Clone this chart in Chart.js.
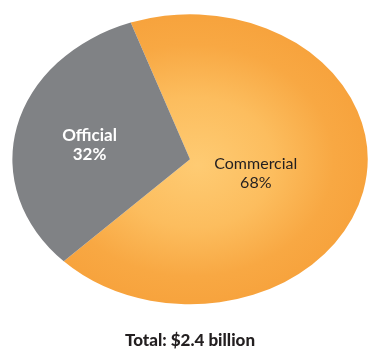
<!DOCTYPE html>
<html>
<head>
<meta charset="utf-8">
<script src="https://cdn.jsdelivr.net/npm/chart.js@4/dist/chart.umd.min.js"></script>
<style>
  body { margin: 0; background: #fff; }
  #wrap { width: 368px; height: 352px; }
</style>
</head>
<body>
<div id="wrap"><canvas id="pie"></canvas></div>
<script>
'use strict';

const labels = ['Commercial', 'Official'];
const shares = [68, 32];
const totalText = 'Total: $2.4 billion';

// pie gets stretched sideways into an oval
const STRETCH_X = 1.225;
// how far out from the centre each label sits (fraction of radius), plus a small drop
const labelDist = [0.38, 0.58];
const labelDropY = [1, 4];
const labelColors = ['#231f20', '#ffffff'];
const labelFonts = ['400 16px Lato', '700 17px Lato'];
const GRAY = '#808285';

function sliceFill(context) {
  if (context.dataIndex !== 0) return GRAY;
  const chart = context.chart;
  const area = chart.chartArea;
  if (!area) return '#f7a43e';
  const cx = (area.left + area.right) / 2;
  const cy = (area.top + area.bottom) / 2;
  const r = Math.min(area.width, area.height) / 2;
  const g = chart.ctx.createRadialGradient(cx + 6, cy + 6, 0, cx, cy, r);
  g.addColorStop(0, '#fecb73');
  g.addColorStop(0.45, '#fcbd5e');
  g.addColorStop(0.8, '#f8a843');
  g.addColorStop(1, '#f7a33d');
  return g;
}

const ovalPie = {
  id: 'ovalPie',
  beforeDatasetsDraw(chart) {
    const arc = chart.getDatasetMeta(0).data[0];
    const ctx = chart.ctx;
    ctx.save();
    ctx.translate(arc.x, arc.y);
    ctx.scale(STRETCH_X, 1);
    ctx.translate(-arc.x, -arc.y);
  },
  afterDatasetsDraw(chart) {
    const ctx = chart.ctx;
    ctx.restore();

    ///////////// slice labels /////////////
    const arcs = chart.getDatasetMeta(0).data;
    ctx.save();
    ctx.textAlign = 'center';
    ctx.textBaseline = 'middle';
    for (let i = 0; i < arcs.length; i++) {
      const a = arcs[i];
      const mid = (a.startAngle + a.endAngle) / 2;
      const r = a.outerRadius * labelDist[i];
      const x = a.x + Math.cos(mid) * r * STRETCH_X;
      const y = a.y + Math.sin(mid) * r + labelDropY[i];
      ctx.fillStyle = labelColors[i];
      ctx.font = labelFonts[i];
      ctx.fillText(labels[i], x, y - 9);
      ctx.fillText(shares[i] + '%', x, y + 10);
    }
    ctx.restore();
  }
};

const ctx = document.getElementById('pie').getContext('2d');
new Chart(ctx, {
  type: 'pie',
  data: {
    labels: labels,
    datasets: [{
      data: shares,
      backgroundColor: sliceFill,
      borderWidth: 0,
      clip: false
    }]
  },
  options: {
    responsive: true,
    maintainAspectRatio: false,
    animation: false,
    rotation: -19.5,
    layout: { padding: { left: 45, right: 33, top: 14, bottom: 0 } },
    plugins: {
      legend: { display: false },
      tooltip: { enabled: false },
      title: {
        display: true,
        position: 'bottom',
        text: totalText,
        color: '#231f20',
        font: { family: 'Lato', size: 17, weight: '900', lineHeight: 1.2 },
        padding: { top: 26, bottom: 1 }
      }
    }
  },
  plugins: [ovalPie]
});
</script>
</body>
</html>
